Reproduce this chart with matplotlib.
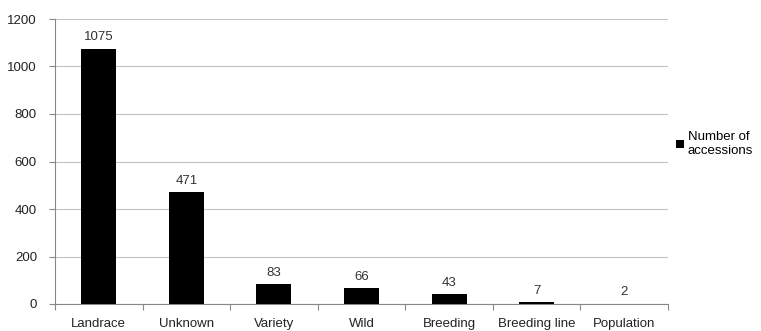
import numpy as np
import matplotlib.pyplot as plt

categories = ['Landrace', 'Unknown', 'Variety', 'Wild', 'Breeding', 'Breeding line', 'Population']
accessions = [1075, 471, 83, 66, 43, 7, 2]
yticks = [0, 200, 400, 600, 800, 1000, 1200]

plt.rcParams['font.family'] = ['Liberation Sans', 'DejaVu Sans']
fs = 9.5

fig = plt.figure(figsize=(7.61, 3.31), dpi=100)
ax = fig.add_axes([55 / 761, 1 - 304 / 331, 613 / 761, 285 / 331])

x = np.arange(len(categories))
bars = ax.bar(x, accessions, width=0.4, color='black', label='Number of\naccessions', zorder=3)

# 数值标注
for xi, v in zip(x, accessions):
    ax.text(xi, v + 22, str(v), ha='center', va='bottom', fontsize=fs, color='#333333')

ax.set_xlim(-0.5, len(categories) - 0.5)
ax.set_ylim(0, 1200)
ax.set_yticks(yticks)
ax.set_yticklabels([str(t) for t in yticks], fontsize=fs, color='#222222')
ax.yaxis.grid(True, color='#c4c4c4', linewidth=0.8, zorder=0)

# x 轴刻度在类别之间，标签在中间
ax.set_xticks(np.arange(len(categories) + 1) - 0.5)
ax.set_xticklabels([])
ax.set_xticks(x, minor=True)
ax.set_xticklabels(categories, minor=True, fontsize=fs, color='#222222')
ax.tick_params(axis='x', which='minor', length=0, pad=10)
ax.tick_params(axis='x', which='major', length=4, color='#888888', direction='out')
ax.tick_params(axis='y', length=4, color='#888888', pad=9)

for side in ['top', 'right']:
    ax.spines[side].set_visible(False)
for side in ['left', 'bottom']:
    ax.spines[side].set_color('#888888')
    ax.spines[side].set_linewidth(0.8)

ax.legend(loc='center left', bbox_to_anchor=(1.0, 0.56), frameon=False, fontsize=fs,
          handlelength=0.6, handleheight=0.6, handletextpad=0.3, borderaxespad=0.2,
          labelspacing=0.1)

fig.savefig('out.png', dpi=100)
